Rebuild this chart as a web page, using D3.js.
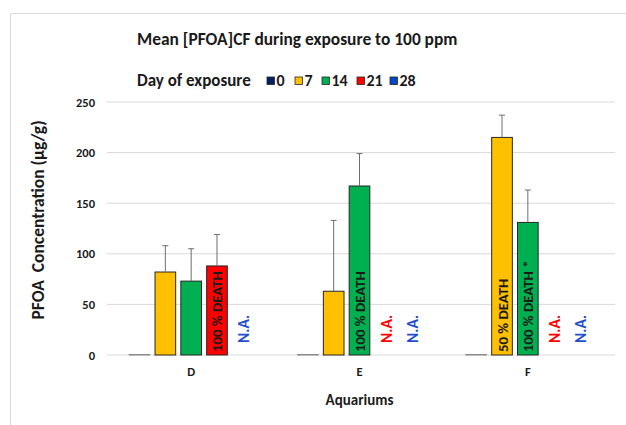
<!DOCTYPE html>
<html>
<head>
<meta charset="utf-8">
<script src="https://cdn.jsdelivr.net/npm/d3@7"></script>
<style>
  body { margin: 0; background: #fff; }
  text { font-family: Carlito, Lato, "Open Sans", sans-serif; font-weight: bold; fill: #1a1a1a; }
</style>
</head>
<body>
<div id="chart"></div>
<script>
// data
const categories = ["D", "E", "F"];
const days = ["0", "7", "14", "21", "28"];
const colors = ["#002060", "#FFC000", "#00B050", "#FF0000", "#0047CC"];
const day0 = [0.5, 0.5, 0.5];
const day7 = [82, 63, 215];
const day14 = [73, 167, 131];
const day21 = [88, null, null];
const day28 = [null, null, null];
const sd0 = [null, null, null];
const sd7 = [26, 70, 22];
const sd14 = [32, 32, 32];
const sd21 = [31, null, null];
const sd28 = [null, null, null];
const yTicks = [0, 50, 100, 150, 200, 250];
// text written inside / above bars: [category, day, text]
const barNotes = [["D", "21", "100 % DEATH"], ["E", "14", "100 % DEATH"], ["F", "7", "50 % DEATH"], ["F", "14", "100 % DEATH *"]];
const naNotes = [["D", "28"], ["E", "21"], ["E", "28"], ["F", "21"], ["F", "28"]];

const values = [day0, day7, day14, day21, day28];
const errors = [sd0, sd7, sd14, sd21, sd28];

const width = 626, height = 425;
const plotLeft = 107, plotRight = 612, plotTop = 102, plotBottom = 355;

const svg = d3.select("#chart").append("svg")
  .attr("width", width)
  .attr("height", height);

// chart frame
svg.append("path")
  .attr("d", "M10.5,425V13.5H626")
  .attr("fill", "none")
  .attr("stroke", "#d9d9d9");

const x0 = d3.scaleBand().domain(categories).range([plotLeft, plotRight]);
const x1 = d3.scaleBand().domain(days).range([0, x0.bandwidth()])
  .paddingInner(0.2).paddingOuter(0.86);
const y = d3.scaleLinear().domain([0, 250]).range([plotBottom, plotTop]);

// gridlines
svg.append("g").selectAll("line")
  .data(yTicks)
  .join("line")
  .attr("x1", plotLeft).attr("x2", plotRight + 3)
  .attr("y1", d => y(d)).attr("y2", d => y(d))
  .attr("stroke", "#d9d9d9");

// y tick labels
svg.append("g").selectAll("text")
  .data(yTicks)
  .join("text")
  .attr("x", 95)
  .attr("y", d => y(d) + 4.5)
  .attr("text-anchor", "end")
  .style("font-size", "12.5px")
  .text(d => d);

// category labels
svg.append("g").selectAll("text")
  .data(categories)
  .join("text")
  .attr("x", d => x0(d) + x0.bandwidth() / 2)
  .attr("y", 376)
  .attr("text-anchor", "middle")
  .style("font-size", "12.5px")
  .text(d => d);

// bars
const bars = [];
days.forEach((day, s) => {
  categories.forEach((cat, c) => {
    if (values[s][c] != null) bars.push({ cat, day, s, v: values[s][c], e: errors[s][c] });
  });
});

svg.append("g").selectAll("rect")
  .data(bars)
  .join("rect")
  .attr("x", d => x0(d.cat) + x1(d.day))
  .attr("y", d => y(d.v))
  .attr("width", x1.bandwidth())
  .attr("height", d => y(0) - y(d.v))
  .attr("fill", d => colors[d.s])
  .attr("stroke", d => d.s === 0 ? "#8c8c8c" : "#262626")
  .attr("stroke-width", 1);

// error bars (upper only)
const errG = svg.append("g").attr("stroke", "#6e6e6e").attr("stroke-width", 1);
bars.filter(d => d.e != null).forEach(d => {
  const cx = x0(d.cat) + x1(d.day) + x1.bandwidth() / 2;
  errG.append("line")
    .attr("x1", cx).attr("x2", cx)
    .attr("y1", y(d.v)).attr("y2", y(d.v + d.e));
  errG.append("line")
    .attr("x1", cx - 3).attr("x2", cx + 3)
    .attr("y1", y(d.v + d.e)).attr("y2", y(d.v + d.e));
});

// notes inside bars
svg.append("g").selectAll("text")
  .data(barNotes)
  .join("text")
  .attr("transform", d => {
    const cx = x0(d[0]) + x1(d[1]) + x1.bandwidth() / 2 + 5.5;
    return "translate(" + cx + "," + (plotBottom - 3) + ") rotate(-90)";
  })
  .style("font-size", "14.8px")
  .text(d => d[2]);

// N.A. labels
svg.append("g").selectAll("text")
  .data(naNotes)
  .join("text")
  .attr("transform", d => {
    const cx = x0(d[0]) + x1(d[1]) + x1.bandwidth() / 2 + 6.5;
    return "translate(" + cx + "," + (plotBottom - 12) + ") rotate(-90)";
  })
  .style("font-size", "15.5px")
  .style("fill", d => d[1] === "21" ? "#FF0000" : "#1F4FD0")
  .text("N.A.");

// title
svg.append("text")
  .attr("x", 137)
  .attr("y", 45)
  .style("font-size", "17.4px")
  .text("Mean [PFOA]CF during exposure to 100 ppm");

// legend
const legend = svg.append("g").attr("transform", "translate(137,86)");
legend.append("text")
  .style("font-size", "17px")
  .text("Day of exposure");
const legendX = [130, 158, 185, 220, 253];
days.forEach((day, i) => {
  legend.append("rect")
    .attr("x", legendX[i]).attr("y", -9)
    .attr("width", 7.5).attr("height", 7.5)
    .attr("fill", colors[i])
    .attr("stroke", "#262626")
    .attr("stroke-width", 0.8);
  legend.append("text")
    .attr("x", legendX[i] + 9.5)
    .style("font-size", "16px")
    .text(day);
});

// axis titles
svg.append("text")
  .attr("transform", "translate(44,220) rotate(-90)")
  .attr("text-anchor", "middle")
  .style("font-size", "17.5px")
  .attr("xml:space", "preserve")
  .text("PFOA  Concentration (µg/g)");

svg.append("text")
  .attr("x", (plotLeft + plotRight) / 2)
  .attr("y", 405)
  .attr("text-anchor", "middle")
  .style("font-size", "15px")
  .text("Aquariums");
</script>
</body>
</html>
